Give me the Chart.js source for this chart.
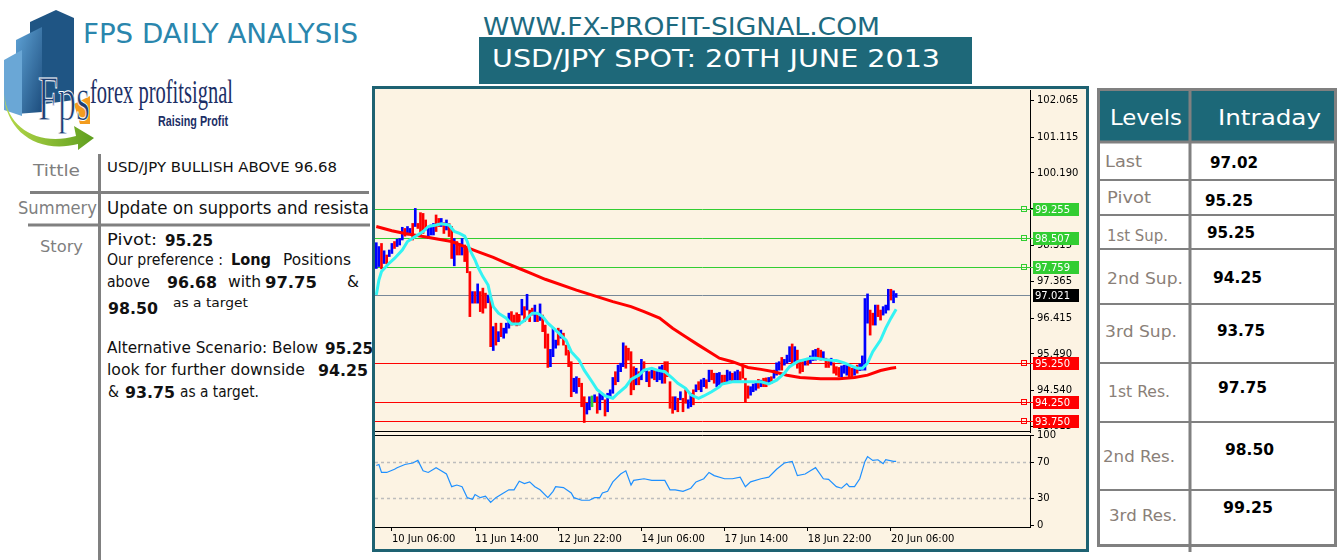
<!DOCTYPE html>
<html><head><meta charset="utf-8">
<script src="https://cdn.jsdelivr.net/npm/chart.js@4.4.1/dist/chart.umd.min.js"></script>
<style>
html,body{margin:0;padding:0;background:#fff;width:1342px;height:560px;overflow:hidden;}
#frame{position:absolute;left:372px;top:86px;width:717px;height:466px;box-sizing:border-box;border:3px solid #1e6272;background:#FCF3E3;}
canvas{position:absolute;}
#pc{left:375px;top:81px;}
#rc{left:375px;top:426px;}
</style></head><body>
<svg width="1342" height="560" style="position:absolute;left:0;top:0" font-family="DejaVu Sans">
  <defs>
    <linearGradient id="gB" x1="0" y1="0" x2="1" y2="1"><stop offset="0" stop-color="#5fa3d6"/><stop offset="1" stop-color="#1c4c7c"/></linearGradient>
    <linearGradient id="gG" x1="0" y1="0" x2="1" y2="0"><stop offset="0" stop-color="#b7d94a"/><stop offset="1" stop-color="#5e9e1f"/></linearGradient>
    <clipPath id="clipL"><rect x="100" y="195" width="269" height="30"/></clipPath>
  </defs>
  <!-- logo -->
  <polygon points="30,22 56,10 74,18 74,100 30,106" fill="#1f5584"/>
  <polygon points="16,40 42,27 42,112 16,114" fill="url(#gB)"/>
  <polygon points="4,60 22,50 22,116 4,110" fill="#6aa7d6"/>
  <polygon points="74,104 90,96 90,124 80,124" fill="#f39c1f"/>
  <path d="M4,94 C8,130 40,146 76,136 L74,126 L94,138 L78,150 L78,144 C38,154 6,132 4,94 Z" fill="url(#gG)"/>
  <text x="38" y="120" font-family="Liberation Serif" font-size="64" fill="#1c3d73" stroke="#ffffff" stroke-width="1" textLength="52" lengthAdjust="spacingAndGlyphs">Fps</text>
  <text x="90" y="103" font-family="Liberation Serif" font-size="34" fill="#1c2f66" textLength="143" lengthAdjust="spacingAndGlyphs">forex profitsignal</text>
  <text x="158" y="126" font-family="Liberation Sans" font-weight="bold" font-size="14" fill="#1c2f66" textLength="70" lengthAdjust="spacingAndGlyphs">Raising Profit</text>
  <!-- headers -->
  <text x="83" y="43" font-size="26" fill="#2a86ad" textLength="275" lengthAdjust="spacingAndGlyphs">FPS DAILY ANALYSIS</text>
  <text x="483" y="35" font-size="24" fill="#1d6a80" textLength="397" lengthAdjust="spacingAndGlyphs">WWW.FX-PROFIT-SIGNAL.COM</text>
  <rect x="479" y="37" width="493" height="47" fill="#1e6879"/>
  <text x="492" y="67" font-size="24" fill="#ffffff" textLength="448" lengthAdjust="spacingAndGlyphs">USD/JPY SPOT: 20TH JUNE 2013</text>
  <!-- left table -->
  <line x1="99.5" y1="154" x2="99.5" y2="560" stroke="#808080" stroke-width="3"/>
  <line x1="30" y1="192.5" x2="369" y2="192.5" stroke="#808080" stroke-width="3"/>
  <line x1="28" y1="225" x2="370" y2="225" stroke="#808080" stroke-width="3"/>
  <text x="33" y="176" font-size="15" fill="#7f7f7f" textLength="47" lengthAdjust="spacingAndGlyphs">Tittle</text>
  <text x="107" y="172" font-size="14" fill="#111" textLength="230" lengthAdjust="spacingAndGlyphs">USD/JPY BULLISH ABOVE 96.68</text>
  <text x="18" y="214" font-size="17" fill="#7f7f7f" textLength="79" lengthAdjust="spacingAndGlyphs">Summery</text>
  <g clip-path="url(#clipL)"><text x="107" y="214" font-size="18" fill="#111" textLength="292" lengthAdjust="spacingAndGlyphs">Update on supports and resistance</text></g>
  <text x="40" y="252" font-size="16" fill="#7f7f7f" textLength="43" lengthAdjust="spacingAndGlyphs">Story</text>
  <g fill="#111" font-size="15">
    <text x="107" y="245" textLength="50" lengthAdjust="spacingAndGlyphs">Pivot:</text>
    <text x="165" y="246" font-weight="bold" textLength="48" lengthAdjust="spacingAndGlyphs">95.25</text>
    <text x="107" y="265" textLength="116" lengthAdjust="spacingAndGlyphs">Our preference :</text>
    <text x="231" y="265" font-weight="bold" textLength="40" lengthAdjust="spacingAndGlyphs">Long</text>
    <text x="283" y="265" textLength="68" lengthAdjust="spacingAndGlyphs">Positions</text>
    <text x="107" y="287" textLength="43" lengthAdjust="spacingAndGlyphs">above</text>
    <text x="167" y="288" font-weight="bold" textLength="50" lengthAdjust="spacingAndGlyphs">96.68</text>
    <text x="228" y="287" textLength="33" lengthAdjust="spacingAndGlyphs">with</text>
    <text x="265" y="288" font-weight="bold" textLength="52" lengthAdjust="spacingAndGlyphs">97.75</text>
    <text x="347" y="287" textLength="12" lengthAdjust="spacingAndGlyphs">&amp;</text>
    <text x="108" y="314" font-weight="bold" textLength="50" lengthAdjust="spacingAndGlyphs">98.50</text>
    <text x="173" y="307" font-size="13" textLength="75" lengthAdjust="spacingAndGlyphs">as a target</text>
    <text x="107" y="353" textLength="211" lengthAdjust="spacingAndGlyphs">Alternative Scenario: Below</text>
    <text x="325" y="354" font-weight="bold" textLength="48" lengthAdjust="spacingAndGlyphs">95.25</text>
    <text x="107" y="375" textLength="198" lengthAdjust="spacingAndGlyphs">look for further downside</text>
    <text x="318" y="376" font-weight="bold" textLength="50" lengthAdjust="spacingAndGlyphs">94.25</text>
    <text x="108" y="397" textLength="11" lengthAdjust="spacingAndGlyphs">&amp;</text>
    <text x="125" y="398" font-weight="bold" textLength="50" lengthAdjust="spacingAndGlyphs">93.75</text>
    <text x="180" y="397" textLength="79" lengthAdjust="spacingAndGlyphs">as a target.</text>
  </g>
  <!-- right table -->
  <rect x="1099" y="91" width="235" height="51" fill="#1c6878"/>
  <g stroke="#808080" stroke-width="2">
    <line x1="1099" y1="180" x2="1334" y2="180"/>
    <line x1="1099" y1="215" x2="1334" y2="215"/>
    <line x1="1099" y1="249" x2="1334" y2="249"/>
    <line x1="1099" y1="304" x2="1334" y2="304"/>
    <line x1="1099" y1="363" x2="1334" y2="363"/>
    <line x1="1099" y1="422" x2="1334" y2="422"/>
    <line x1="1099" y1="490" x2="1334" y2="490"/>
  </g>
  <line x1="1099" y1="142" x2="1334" y2="142" stroke="#808080" stroke-width="3"/>
  <rect x="1098.5" y="89.5" width="237" height="456" fill="none" stroke="#808080" stroke-width="3"/>
  <line x1="1190" y1="89" x2="1190" y2="552" stroke="#808080" stroke-width="3"/>
  <text x="1110" y="125" font-size="22" fill="#fff" textLength="72" lengthAdjust="spacingAndGlyphs">Levels</text>
  <text x="1218" y="125" font-size="22" fill="#fff" textLength="103" lengthAdjust="spacingAndGlyphs">Intraday</text>
  <g font-size="15" fill="#8a7f78">
    <text x="1105" y="167" textLength="37" lengthAdjust="spacingAndGlyphs">Last</text>
    <text x="1107" y="203" textLength="44" lengthAdjust="spacingAndGlyphs">Pivot</text>
    <text x="1107" y="241" textLength="61" lengthAdjust="spacingAndGlyphs">1st Sup.</text>
    <text x="1107" y="284" textLength="76" lengthAdjust="spacingAndGlyphs">2nd Sup.</text>
    <text x="1105" y="337" textLength="72" lengthAdjust="spacingAndGlyphs">3rd Sup.</text>
    <text x="1108" y="397" textLength="62" lengthAdjust="spacingAndGlyphs">1st Res.</text>
    <text x="1103" y="462" textLength="72" lengthAdjust="spacingAndGlyphs">2nd Res.</text>
    <text x="1109" y="521" textLength="68" lengthAdjust="spacingAndGlyphs">3rd Res.</text>
  </g>
  <g font-size="15" font-weight="bold" fill="#000">
    <text x="1210" y="168" textLength="48" lengthAdjust="spacingAndGlyphs">97.02</text>
    <text x="1205" y="206" textLength="48" lengthAdjust="spacingAndGlyphs">95.25</text>
    <text x="1207" y="238" textLength="48" lengthAdjust="spacingAndGlyphs">95.25</text>
    <text x="1213" y="283" textLength="49" lengthAdjust="spacingAndGlyphs">94.25</text>
    <text x="1217" y="336" textLength="48" lengthAdjust="spacingAndGlyphs">93.75</text>
    <text x="1218" y="393" textLength="49" lengthAdjust="spacingAndGlyphs">97.75</text>
    <text x="1225" y="455" textLength="49" lengthAdjust="spacingAndGlyphs">98.50</text>
    <text x="1223" y="513" textLength="50" lengthAdjust="spacingAndGlyphs">99.25</text>
  </g>
</svg>
<div id="frame"></div>
<canvas id="pc" width="711" height="360"></canvas>
<canvas id="rc" width="711" height="123"></canvas>
<script>
// ---------- DATA ----------
const slotCount = 252;
const timeTickIndex = [6, 38, 70, 102, 134, 166, 198];
const timeTickText = ['10 Jun 06:00','11 Jun 14:00','12 Jun 22:00','14 Jun 06:00','17 Jun 14:00','18 Jun 22:00','20 Jun 06:00'];

const barHigh = [
98.38,98.28,98.36,98.17,98.06,98.19,98.36,98.41,98.47,98.49,
98.78,98.75,98.80,98.75,98.88,99.27,98.88,99.16,99.14,98.97,
98.80,98.84,98.88,99.10,99.01,99.01,98.90,98.97,98.88,98.80,
98.49,98.41,98.36,98.49,98.32,98.28,97.63,97.11,97.11,97.31,
97.11,97.20,97.07,97.02,96.98,96.20,96.29,96.07,96.29,96.16,
96.29,96.55,96.59,96.50,96.56,96.52,96.91,96.72,97.04,96.63,
96.68,96.76,96.56,96.79,96.50,96.24,96.01,95.61,96.16,
95.85,96.16,96.11,96.03,95.72,95.59,95.29,94.86,94.90,94.86,
94.73,94.38,94.21,94.38,94.40,94.43,94.38,94.47,94.43,94.30,
94.47,94.56,94.88,95.03,95.20,95.25,95.78,95.70,95.64,95.55,
95.16,95.12,95.03,95.35,95.29,95.07,95.03,95.12,95.07,95.07,
95.16,95.20,95.29,95.29,94.77,94.38,94.38,94.34,94.51,94.34,
94.56,94.30,94.47,94.56,94.69,94.77,94.82,94.86,94.82,95.07,
95.07,94.99,94.99,95.01,94.94,
94.94,95.07,95.03,94.99,95.03,95.07,95.03,95.20,94.86,94.66,
94.64,94.71,94.77,94.83,94.81,94.86,94.87,94.88,94.90,95.07,
95.26,95.29,95.40,95.35,95.46,95.68,95.75,95.68,95.59,95.33,
95.29,95.33,95.38,95.44,95.58,95.61,95.64,95.59,95.55,95.38,
95.33,95.38,95.26,95.16,95.14,95.18,95.20,95.20,95.18,95.12,
95.14,95.20,95.23,95.44,96.93,97.05,96.63,96.55,96.76,96.76,
96.63,96.72,96.76,97.17,97.17,97.13,97.06];

const barLow = [
97.71,97.76,97.70,97.84,97.83,98.02,98.10,98.23,98.28,98.32,
98.45,98.55,98.58,98.62,98.45,98.80,98.75,98.54,98.62,98.71,
98.49,98.58,98.58,98.67,98.80,98.80,98.62,98.71,98.54,97.97,
97.78,98.06,98.06,98.06,97.89,97.60,96.46,96.81,96.81,96.81,
96.59,96.55,96.68,96.82,95.68,95.58,95.72,95.81,95.94,95.90,
96.03,96.16,96.24,96.29,96.22,96.24,96.50,96.33,96.63,96.33,
96.50,96.33,96.33,96.36,96.07,95.64,95.14,95.16,95.42,
95.64,95.72,95.90,95.72,95.46,95.16,94.38,94.51,94.47,94.64,
94.12,93.71,93.93,94.04,94.12,94.25,93.95,94.04,94.30,93.88,
93.99,94.38,94.47,94.69,94.77,95.03,95.16,95.12,95.33,94.43,
94.56,94.69,94.69,94.82,95.03,94.77,94.64,94.86,94.82,94.77,
94.82,94.73,94.73,94.90,94.08,93.95,94.04,93.99,94.30,93.99,
94.21,94.08,94.12,94.17,94.51,94.56,94.51,94.64,94.60,94.77,
94.82,94.73,94.64,94.69,94.73,
94.73,94.73,94.81,94.77,94.81,94.81,94.81,94.86,94.25,94.34,
94.42,94.51,94.55,94.60,94.64,94.64,94.64,94.71,94.73,94.86,
94.94,95.07,95.07,95.20,95.25,95.29,95.25,95.29,95.12,94.99,
95.03,95.20,95.20,95.25,95.32,95.33,95.38,95.33,95.35,95.14,
95.14,95.20,94.99,94.94,94.90,94.90,94.99,94.94,94.90,94.88,
94.94,94.99,95.06,95.07,95.07,96.29,95.98,96.24,96.24,96.46,
96.37,96.50,96.55,96.63,96.89,96.82,96.96];

// u = up bar, d = down bar, n = unchanged
const barDirection = ("uudud uuduu uduud udddd uuudd ududd uddud ddudu dddud ududu uuddd dudud dudud dduu " +
  "ududd dduud dduun uduud uuudu uuddd dudud ududu uuddd dudud duudu duudu dduud " +
  "duudu udddd uuudu ddudu uuduu ududd duduu uddud duddd uuudd uduuu uddud duuud uu").replace(/ /g,'').split('');

const fastMaIndex = [0,1,2,5,7,10,12,15,18,20,23,25,28,30,32,34,35,36,38,39,41,43,44,45,47,50,52,55,57,60,62,64,66,69,73,75,78,80,83,85,88,91,93,96,98,101,103,106,108,111,114,116,119,121,124,126,129,132,133,137,143,148,151,154,157,159,162,164,167,169,172,175,177,180,182,185,187,189,191,194,196,198,200];
const fastMaValue = [97.02,97.41,97.63,97.85,97.97,98.19,98.41,98.54,98.67,98.80,98.84,98.87,98.84,98.67,98.62,98.55,98.41,98.19,97.93,97.76,97.50,97.28,96.98,96.72,96.55,96.42,96.27,96.27,96.36,96.55,96.55,96.46,96.29,96.11,95.85,95.55,95.33,95.07,94.77,94.56,94.40,94.34,94.47,94.64,94.83,94.94,95.07,95.12,95.07,95.03,94.86,94.73,94.60,94.43,94.34,94.40,94.51,94.64,94.71,94.77,94.77,94.77,94.71,94.81,94.99,95.16,95.29,95.33,95.38,95.38,95.35,95.33,95.32,95.26,95.20,95.12,95.12,95.25,95.55,95.85,96.16,96.42,96.65];

const slowMaIndex = [0,6,11,18,24,29,34,39,45,50,55,60,65,77,84,91,98,103,109,114,119,124,129,132,137,143,148,153,158,163,171,178,184,189,194,198,200];
const slowMaValue = [98.80,98.69,98.62,98.54,98.47,98.41,98.28,98.15,98.00,97.85,97.71,97.57,97.43,97.15,97.00,96.85,96.72,96.59,96.42,96.16,95.94,95.72,95.51,95.38,95.29,95.14,95.09,95.03,94.94,94.88,94.85,94.85,94.88,94.94,95.06,95.12,95.14];

const rsiIndex = [0,1,2,4,7,8,11,14,16,18,20,23,24,27,29,31,33,35,37,38,40,42,44,46,48,51,53,55,57,59,61,63,66,68,69,72,75,76,79,82,84,86,87,89,91,94,96,98,99,103,106,108,111,113,115,118,121,123,126,128,130,134,137,140,142,144,148,151,154,157,160,162,165,167,169,172,174,177,179,181,182,184,186,188,189,191,193,195,196,199,200];
const rsiValue = [66.1,67.2,58.4,58.4,61.9,63.7,67.2,68.9,71.8,60.2,58.4,63.7,61.9,56.7,42.6,44.4,42.6,30.4,28.6,33.9,30.4,32.1,25.1,30.4,33.9,39.1,39.1,48.6,46.1,47.9,42.6,39.1,30.4,37.4,42.6,41.6,35.6,30.4,27.5,27.5,30.4,30.4,35.6,37.4,47.9,56.7,60.2,44.4,49.6,51.4,49.6,49.6,49.6,39.1,39.1,37.4,40.9,47.9,51.4,58.4,54.9,51.4,51.4,53.2,42.6,47.9,51.4,53.2,61.9,68.9,70.7,54.9,56.7,60.2,63.7,51.4,50.7,42.6,40.9,46.1,42.6,42.6,51.4,70.7,76.0,71.8,72.5,68.2,72.5,70.7,70.7];

const priceTicks = [102.065,101.115,100.190,99.255,98.315,97.365,96.415,95.490,94.540,93.615];
const priceMin = 93.464, priceMax = 102.345;
const levelValues = [99.255, 98.507, 97.759, 97.021, 95.250, 94.250, 93.750];
const levelKinds  = ['g','g','g','k','r','r','r'];
const rsiTicks = [100, 70, 30, 0];
const rsiLevels = [70, 30];

// ---------- BUILD ----------
const labels = Array.from({length: slotCount}, (_, i) => {
  const k = timeTickIndex.indexOf(i); return k >= 0 ? timeTickText[k] : '';
});
function sparse(idx, val){ const a = new Array(slotCount).fill(null); idx.forEach((ix,k)=>{a[ix]=val[k];}); return a; }
const dirColor = {u:'#0000FF', d:'#FF0000', n:'#32CD32'};
const lineColor = {g:'#32CD32', k:'#778899', r:'#FF0000'};
const tagColor = {g:'#32CD32', k:'#000000', r:'#FF0000'};
const FONT = '"DejaVu Sans", sans-serif';

const levelPlugin = {
  id:'levels',
  beforeDatasetsDraw(chart){
    const {ctx, chartArea:a, scales:{y}} = chart;
    ctx.save(); ctx.lineWidth = 1;
    levelValues.forEach((v,k)=>{
      const py = Math.round(y.getPixelForValue(v)) + 0.5;
      ctx.strokeStyle = lineColor[levelKinds[k]];
      ctx.beginPath(); ctx.moveTo(a.left, py); ctx.lineTo(a.right, py); ctx.stroke();
    });
    ctx.restore();
  },
  afterDraw(chart){
    const {ctx, chartArea:a, scales:{y}} = chart;
    ctx.save();
    ctx.strokeStyle = '#000'; ctx.lineWidth = 1;
    ctx.beginPath(); ctx.moveTo(a.left, a.bottom - 0.5); ctx.lineTo(a.right, a.bottom - 0.5); ctx.stroke();
    ctx.font = '10px ' + FONT; ctx.textBaseline = 'middle'; ctx.textAlign = 'left';
    levelValues.forEach((v,k)=>{
      const kind = levelKinds[k];
      const py = Math.round(y.getPixelForValue(v));
      if (kind !== 'k') {
        ctx.strokeStyle = lineColor[kind];
        ctx.strokeRect(a.right - 8.5, py - 2.5, 5, 5);
        ctx.beginPath(); ctx.moveTo(a.right - 3.5, py + 0.5); ctx.lineTo(a.right + 3, py + 0.5); ctx.stroke();
      }
      ctx.fillStyle = tagColor[kind];
      ctx.fillRect(a.right + 3, py - 6, 46, 13);
      ctx.fillStyle = '#fff';
      ctx.fillText(v.toFixed(3), a.right + 5, py + 1);
    });
    ctx.restore();
  }
};

const rsiPlugin = {
  id:'rsilv',
  beforeDatasetsDraw(chart){
    const {ctx, chartArea:a, scales:{y}} = chart;
    ctx.save(); ctx.strokeStyle = '#BDBDBD'; ctx.lineWidth = 1.5; ctx.setLineDash([3,3]);
    rsiLevels.forEach(v=>{
      const py = Math.round(y.getPixelForValue(v)) + 0.5;
      ctx.beginPath(); ctx.moveTo(a.left, py); ctx.lineTo(a.right, py); ctx.stroke();
    });
    ctx.restore();
  },
  afterDraw(chart){
    const {ctx, chartArea:a} = chart;
    ctx.save(); ctx.strokeStyle = '#000'; ctx.lineWidth = 1;
    ctx.beginPath(); ctx.moveTo(a.left, a.top + 0.5); ctx.lineTo(a.right, a.top + 0.5); ctx.stroke();
    ctx.restore();
  }
};

const common = {responsive:false, animation:false, devicePixelRatio:1, events:[],
  plugins:{legend:{display:false}, tooltip:{enabled:false}}};

new Chart(document.getElementById('pc'), {
  type:'bar',
  data:{labels, datasets:[
    {type:'line', data: sparse(fastMaIndex, fastMaValue), borderColor:'#33F3F3', borderWidth:3, pointRadius:0, spanGaps:true, tension:0, order:0},
    {type:'line', data: sparse(slowMaIndex, slowMaValue), borderColor:'#FF0000', borderWidth:3, pointRadius:0, spanGaps:true, tension:0, order:1},
    {type:'bar', data: barHigh.map((h,i)=>[barLow[i], h]), backgroundColor: barHigh.map((h,i)=>dirColor[barDirection[i]] || '#0000FF'), barThickness:2, order:2}
  ]},
  options:Object.assign({}, common, {
    layout:{padding:0},
    scales:{
      x:{display:false, offset:true},
      y:{position:'right', min:priceMin, max:priceMax,
         afterFit(s){ s.width = 56; },
         afterBuildTicks(s){ s.ticks = priceTicks.map(v=>({value:v})); },
         ticks:{autoSkip:false, callback:v=>Number(v).toFixed(3), font:{family:FONT, size:10}, color:'#000', padding:3},
         grid:{drawOnChartArea:false, drawTicks:true, tickLength:4, color:'#000'},
         border:{display:true, color:'#000', width:1}}
    }
  }),
  plugins:[levelPlugin]
});

new Chart(document.getElementById('rc'), {
  type:'line',
  data:{labels, datasets:[
    {data: sparse(rsiIndex, rsiValue), borderColor:'#1E90FF', borderWidth:1.2, pointRadius:0, spanGaps:true, tension:0}
  ]},
  options:Object.assign({}, common, {
    layout:{padding:0},
    scales:{
      x:{offset:true,
         afterFit(s){ s.height = 22; },
         afterBuildTicks(s){ s.ticks = timeTickIndex.map(i=>({value:i})); },
         ticks:{autoSkip:false, maxRotation:0, align:'start', font:{family:FONT, size:10}, color:'#000', padding:2},
         grid:{drawOnChartArea:false, offset:false, tickLength:4, color:'#000'},
         border:{display:true, color:'#000', width:1}},
      y:{position:'right', min:-2.2, max:100,
         afterFit(s){ s.width = 56; },
         afterBuildTicks(s){ s.ticks = rsiTicks.map(v=>({value:v})); },
         ticks:{autoSkip:false, font:{family:FONT, size:10}, color:'#000', padding:3},
         grid:{drawOnChartArea:false, tickLength:4, color:'#000'},
         border:{display:true, color:'#000', width:1}}
    }
  }),
  plugins:[rsiPlugin]
});
</script>
</body></html>
